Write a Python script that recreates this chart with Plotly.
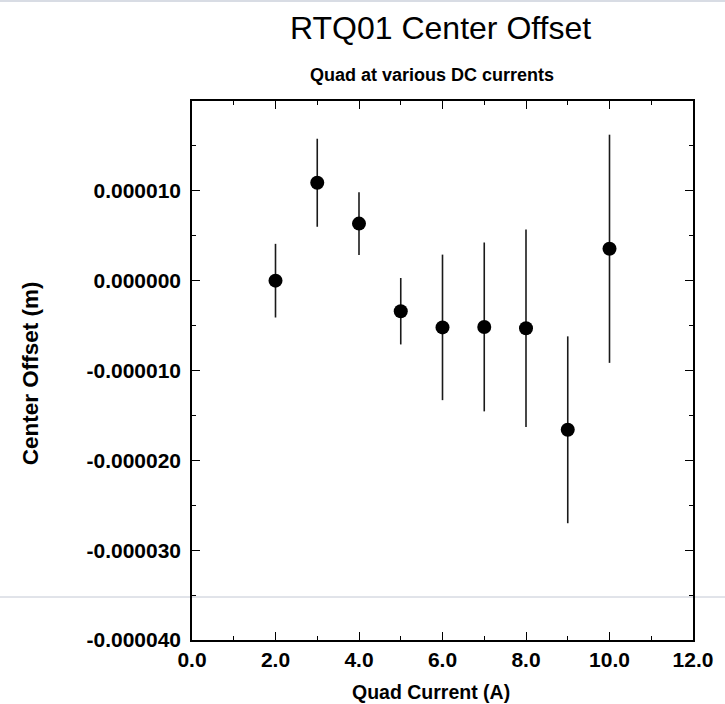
import plotly.graph_objects as go

# ---- data ----
quad_current = [2, 3, 4, 5, 6, 7, 8, 9, 10]
center_offset = [0.0e-6, 10.9e-6, 6.35e-6, -3.4e-6, -5.2e-6, -5.15e-6, -5.3e-6, -16.6e-6, 3.55e-6]
offset_error = [4.1e-6, 4.9e-6, 3.5e-6, 3.7e-6, 8.1e-6, 9.4e-6, 11.0e-6, 10.4e-6, 12.7e-6]

x_tick_vals = [0, 2, 4, 6, 8, 10, 12]
x_tick_text = ["0.0", "2.0", "4.0", "6.0", "8.0", "10.0", "12.0"]
y_tick_vals = [-40e-6, -30e-6, -20e-6, -10e-6, 0.0, 10e-6]
y_tick_text = ["-0.000040", "-0.000030", "-0.000020", "-0.000010", "0.000000", "0.000010"]

title_text = "RTQ01 Center Offset"
subtitle_text = "Quad at various DC currents"
x_title = "Quad Current (A)"
y_title = "Center Offset (m)"

FONT = "Liberation Sans, Arial, sans-serif"

fig = go.Figure()
fig.add_trace(go.Scatter(
    x=quad_current, y=center_offset, mode="markers",
    marker=dict(color="black", size=14, line=dict(width=0)),
    error_y=dict(type="data", array=offset_error, visible=True,
                 color="#1a1a1a", thickness=1.6, width=0),
    showlegend=False,
))

axis_common = dict(
    showline=True, linecolor="black", linewidth=1.5, mirror="ticks",
    ticks="inside", ticklen=8, tickwidth=1.3, tickcolor="black",
    showgrid=False, zeroline=False,
    tickfont=dict(family=FONT, size=21, color="black", weight="bold"),
)

fig.update_xaxes(
    range=[0, 12], tickvals=x_tick_vals, ticktext=x_tick_text,
    minor=dict(ticks="inside", ticklen=4, tickwidth=1.2, tickcolor="black", dtick=1, tick0=0, showgrid=False),
    **axis_common,
)
fig.update_yaxes(
    range=[-40e-6, 20e-6], tickvals=y_tick_vals, ticktext=y_tick_text,
    minor=dict(ticks="inside", ticklen=4, tickwidth=1.2, tickcolor="black", dtick=5e-6, tick0=0, showgrid=False),
    ticklabelstandoff=5,
    **axis_common,
)

# titles
fig.add_annotation(text=title_text, xref="paper", yref="paper", x=0.497, y=1.136,
                   xanchor="center", yanchor="middle", showarrow=False,
                   font=dict(family=FONT, size=32, color="black"))
fig.add_annotation(text=subtitle_text, xref="paper", yref="paper", x=0.48, y=1.048,
                   xanchor="center", yanchor="middle", showarrow=False,
                   font=dict(family=FONT, size=18, color="black", weight="bold"))
fig.add_annotation(text=x_title, xref="paper", yref="paper", x=0.4775, y=-0.0965,
                   xanchor="center", yanchor="middle", showarrow=False,
                   font=dict(family=FONT, size=19.5, color="black", weight="bold"))
fig.add_annotation(text=y_title, xref="paper", yref="paper", x=-0.323, y=0.495,
                   xanchor="center", yanchor="middle", showarrow=False, textangle=-90,
                   font=dict(family=FONT, size=22.5, color="black", weight="bold"))

# faint screenshot guide lines visible in the reference
fig.add_shape(type="line", xref="paper", yref="paper", x0=-1, x1=2,
              y0=(640 - 597) / 539, y1=(640 - 597) / 539,
              line=dict(color="#c3c8d4", width=1), layer="below")
fig.add_shape(type="line", xref="paper", yref="paper", x0=-1, x1=2,
              y0=(640 - 1) / 539, y1=(640 - 1) / 539,
              line=dict(color="#d8dce4", width=2), layer="below")

fig.update_layout(
    width=725, height=704,
    margin=dict(l=192, r=22, t=101, b=64),
    paper_bgcolor="white", plot_bgcolor="white",
    font=dict(family=FONT, color="black"),
)

fig.write_html("out.html")
